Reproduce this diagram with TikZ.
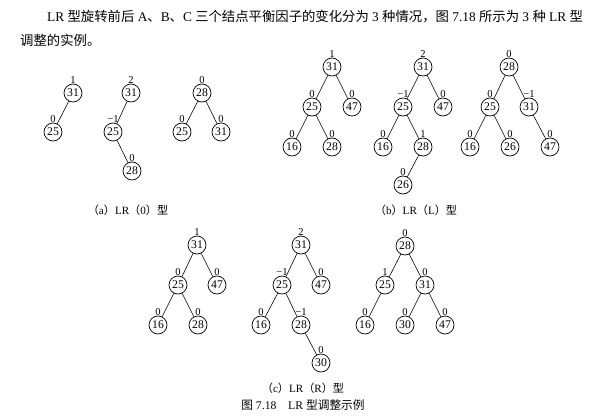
\documentclass[tikz,border=0pt]{standalone}
\usepackage{fontspec}
\setmainfont{Liberation Serif}
\newfontfamily\cjk{Noto Sans CJK SC}
\newcommand{\zh}[1]{{\cjk #1}}
\usetikzlibrary{positioning}

\begin{document}
\begin{tikzpicture}[x=0.3mm,y=-0.3mm,
  bt/.style={circle,draw,line width=0.6pt,minimum size=5.4mm,inner sep=0pt,
             font=\fontsize{10}{12}\selectfont,label distance=0.8mm},
  every label/.style={font=\fontsize{9}{11}\selectfont,inner sep=0pt},
  capt/.style={font=\fontsize{9.5}{11}\selectfont,inner sep=0pt}]
 \useasboundingbox (0,0) rectangle (606,417);
 \node[anchor=west,inner sep=0pt,font=\fontsize{11.4}{13}\selectfont] (line1) at (47,17)
  {LR \zh{型旋转前后} A\zh{、}B\zh{、}C \zh{三个结点平衡因子的变化分为} 3 \zh{种情况，图} 7.18 \zh{所示为} 3 \zh{种} LR \zh{型}};
 \node[anchor=west,inner sep=0pt,font=\fontsize{11.4}{13}\selectfont] (line2) at (20,40)
  {\zh{调整的实例。}};

 \node[bt,label=above:1] (a1-31) at (73,93) {31};
 \node[bt,label=above:0] (a1-25) at (53,132) {25};
 \node[bt,label=above:2] (a2-31) at (131,93) {31};
 \node[bt,label=above:−1] (a2-25) at (113,132) {25};
 \node[bt,label=above:0] (a2-28) at (132,171) {28};
 \node[bt,label=above:0] (a3-28) at (202,93) {28};
 \node[bt,label=above:0] (a3-25) at (182,132) {25};
 \node[bt,label=above:0] (a3-31) at (221,132) {31};
 \node[capt] (capa) at (128,210) {\zh{（}a\zh{）}LR\zh{（}0\zh{）型}};

 \node[bt,label=above:1] (b1-31) at (332,67) {31};
 \node[bt,label=above:0] (b1-25) at (312,107) {25};
 \node[bt,label=above:0] (b1-47) at (352,107) {47};
 \node[bt,label=above:0] (b1-16) at (292,147) {16};
 \node[bt,label=above:0] (b1-28) at (332,147) {28};
 \node[bt,label=above:2] (b2-31) at (423,67) {31};
 \node[bt,label=above:−1] (b2-25) at (403,107) {25};
 \node[bt,label=above:0] (b2-47) at (443,107) {47};
 \node[bt,label=above:0] (b2-16) at (383,147) {16};
 \node[bt,label=above:1] (b2-28) at (423,147) {28};
 \node[bt,label=above:0] (b2-26) at (403,185) {26};
 \node[bt,label=above:0] (b3-28) at (509,67) {28};
 \node[bt,label=above:0] (b3-25) at (490,107) {25};
 \node[bt,label=above:−1] (b3-31) at (529,107) {31};
 \node[bt,label=above:0] (b3-16) at (470,147) {16};
 \node[bt,label=above:0] (b3-26) at (510,147) {26};
 \node[bt,label=above:0] (b3-47) at (550,147) {47};
 \node[capt] (capb) at (416,210) {\zh{（}b\zh{）}LR\zh{（}L\zh{）型}};

 \node[bt,label=above:1] (c1-31) at (197,245) {31};
 \node[bt,label=above:0] (c1-25) at (178,285) {25};
 \node[bt,label=above:0] (c1-47) at (217,285) {47};
 \node[bt,label=above:0] (c1-16) at (158,325) {16};
 \node[bt,label=above:0] (c1-28) at (198,325) {28};
 \node[bt,label=above:2] (c2-31) at (301,245) {31};
 \node[bt,label=above:−1] (c2-25) at (282,285) {25};
 \node[bt,label=above:0] (c2-47) at (321,285) {47};
 \node[bt,label=above:0] (c2-16) at (261,325) {16};
 \node[bt,label=above:−1] (c2-28) at (301,325) {28};
 \node[bt,label=above:0] (c2-30) at (321,363) {30};
 \node[bt,label=above:0] (c3-28) at (405,246) {28};
 \node[bt,label=above:1] (c3-25) at (385,285) {25};
 \node[bt,label=above:0] (c3-31) at (425,285) {31};
 \node[bt,label=above:0] (c3-16) at (365,325) {16};
 \node[bt,label=above:0] (c3-30) at (405,325) {30};
 \node[bt,label=above:0] (c3-47) at (445,325) {47};
 \node[capt] (capc) at (303,388) {\zh{（}c\zh{）}LR\zh{（}R\zh{）型}};
 \node[capt,font=\fontsize{10}{12}\selectfont] (fig) at (303,405) {\zh{图} 7.18\quad LR \zh{型调整示例}};

 \foreach \p/\q in {a1-31/a1-25, a2-31/a2-25, a2-25/a2-28, a3-28/a3-25, a3-28/a3-31,
   b1-31/b1-25, b1-31/b1-47, b1-25/b1-16, b1-25/b1-28,
   b2-31/b2-25, b2-31/b2-47, b2-25/b2-16, b2-25/b2-28, b2-28/b2-26,
   b3-28/b3-25, b3-28/b3-31, b3-25/b3-16, b3-25/b3-26, b3-31/b3-47,
   c1-31/c1-25, c1-31/c1-47, c1-25/c1-16, c1-25/c1-28,
   c2-31/c2-25, c2-31/c2-47, c2-25/c2-16, c2-25/c2-28, c2-28/c2-30,
   c3-28/c3-25, c3-28/c3-31, c3-25/c3-16, c3-31/c3-30, c3-31/c3-47}
  \draw[line width=0.5pt] (\p) -- (\q);
\end{tikzpicture}
\end{document}
